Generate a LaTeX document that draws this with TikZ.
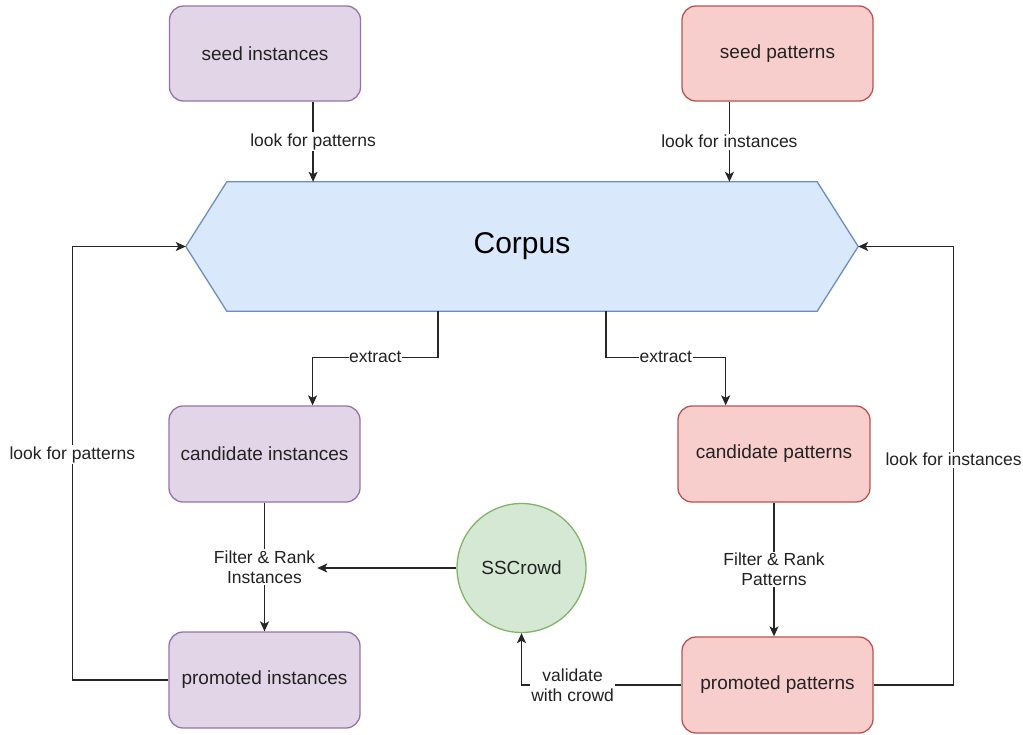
\documentclass[tikz,border=0pt]{standalone}
\usepackage{fontspec}
\setmainfont{Liberation Sans}
\usetikzlibrary{arrows.meta,calc}
\pgfdeclarelayer{background}
\pgfsetlayers{background,main}
\definecolor{purpF}{HTML}{E1D5E7}
\definecolor{purpD}{HTML}{9673A6}
\definecolor{redF}{HTML}{F8CECC}
\definecolor{redD}{HTML}{B85450}
\definecolor{bluF}{HTML}{DAE8FC}
\definecolor{bluD}{HTML}{6C8EBF}
\definecolor{grnF}{HTML}{D5E8D4}
\definecolor{grnD}{HTML}{82B366}
\definecolor{txt}{HTML}{222222}
\begin{document}
\begin{tikzpicture}[x=1pt,y=-1pt,
  box/.style={rectangle, rounded corners=14pt, line width=1.3pt, inner sep=0pt,
    minimum width=191pt, minimum height=95pt, text=txt,
    font=\fontsize{19}{22}\selectfont},
  purp/.style={box, fill=purpF, draw=purpD},
  redb/.style={box, fill=redF, draw=redD},
  lbl/.style={fill=white, inner sep=1.5pt, align=center, text=txt,
    font=\fontsize{17.5}{20}\selectfont},
  arr/.style={draw=black!85, line width=1.4pt,
    -{Stealth[length=10pt,width=9pt,inset=2.5pt]}},
]
\useasboundingbox (0,0) rectangle (1023,734);

% nodes
\node (si) [purp] at (265,53.5) {seed instances};
\node (sp) [redb] at (777.5,53.5) {seed patterns};
\node (corpus) [minimum width=672pt, minimum height=129pt, inner sep=0pt,
  font=\fontsize{30}{34}\selectfont, text=black] at (522,246.5) {Corpus};
\begin{pgfonlayer}{background}
\draw[fill=bluF, draw=bluD, line width=1.3pt]
  (corpus.west) -- ($(corpus.north west)+(41,0)$) -- ($(corpus.north east)+(-41,0)$)
  -- (corpus.east) -- ($(corpus.south east)+(-41,0)$) -- ($(corpus.south west)+(41,0)$) -- cycle;
\end{pgfonlayer}
\node (ci) [purp, minimum height=96pt] at (264.5,454) {candidate instances};
\node (cp) [redb, minimum width=192pt, minimum height=96pt] at (774,454) {candidate patterns};
\node (pi) [purp, minimum height=96pt] at (264.5,680) {promoted instances};
\node (pp) [redb, minimum height=96pt] at (777.5,685) {promoted patterns};
\node (crowd) [circle, minimum size=129pt, inner sep=0pt, fill=grnF, draw=grnD,
  line width=1.3pt, text=txt, font=\fontsize{19}{22}\selectfont] at (521.5,568) {SSCrowd};

% helper points
\coordinate (siout) at ($(si.south west)!0.75!(si.south east)$);
\coordinate (spout) at ($(sp.south west)!0.25!(sp.south east)$);
\coordinate (c1) at ($(corpus.south)+(-84,0)$);
\coordinate (c2) at ($(corpus.south)+(84,0)$);
\coordinate (ciin) at ($(ci.north west)!0.75!(ci.north east)$);
\coordinate (cpin) at ($(cp.north west)!0.25!(cp.north east)$);

% connectors
\draw[arr] (siout) -- node (l1) [lbl] {look for patterns} (siout |- corpus.north);
\draw[arr] (spout) -- node (l2) [lbl] {look for instances} (spout |- corpus.north);
\draw[arr] (c1) -- ++(0,46) -| node (l3) [lbl, pos=0.25, inner sep=0.5pt] {extract} (ciin);
\draw[arr] (c2) -- ++(0,46) -| node (l4) [lbl, pos=0.25, inner sep=0.5pt] {extract} (cpin);
\draw[arr] (ci) -- node (fri) [lbl] {Filter \& Rank\\Instances} (pi);
\draw[arr] (crowd.west) -- (crowd.west -| fri.east);
\draw[arr] (cp.south) -- node (frp) [lbl] {Filter \& Rank\\Patterns} (cp.south |- pp.north);
\draw[arr] (pp.west) -| node (val) [lbl, pos=0.34] {validate\\with crowd} (crowd.south);
\draw[arr] (pi.west) -- ++(-96,0) |- node (lfp) [lbl, pos=0.26] {look for patterns} (corpus.west);
\draw[arr] (pp.east) -- ++(80,0) |- node (lfi) [lbl, pos=0.257] {look for instances} (corpus.east);
\end{tikzpicture}
\end{document}
